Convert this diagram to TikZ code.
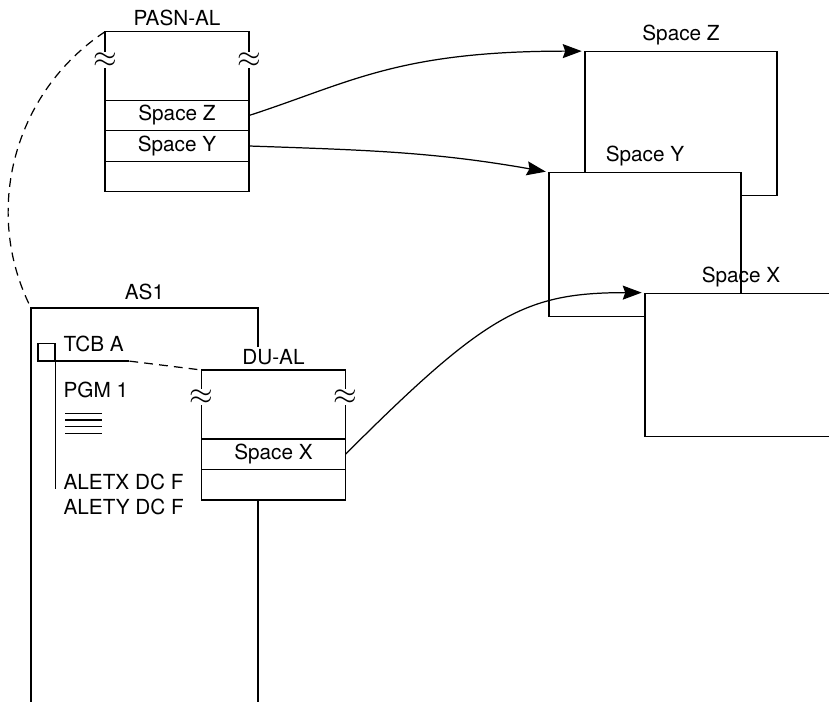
\documentclass[tikz,border=0pt]{standalone}
\usepackage{fontspec}
\setmainfont{TeX Gyre Heros}
\usetikzlibrary{arrows.meta, positioning, calc}
\newcommand{\dgfont}{\fontsize{11.8}{14}\selectfont}

\begin{document}
\begin{tikzpicture}[x=0.2mm, y=0.2mm, line width=0.7pt,
    every node/.style={font=\dgfont, inner sep=0pt},
    every label/.style={font=\dgfont, inner sep=0pt},
    label distance=1mm,
    alhead/.style={draw, outer sep=0pt, minimum width=2.88cm, minimum height=1.37cm},
    alrow/.style={draw, outer sep=0pt, minimum width=2.88cm, minimum height=6.1mm},
    spacebox/.style={draw, fill=white, minimum width=3.84cm, minimum height=2.87cm},
    brk/.style={fill=white, inner sep=0.4pt, font=\fontsize{17}{17}\selectfont},
    link/.style={-{Stealth[length=3.8mm, width=2.8mm, inset=0.5mm]}, shorten >=1.5pt},
    dashline/.style={dash pattern=on 5pt off 3.5pt}]
    \useasboundingbox (0,0) rectangle (829,702);
    \clip (0,0) rectangle (829,702);

    % PASN-AL
    \node[alhead, label=above:PASN-AL] (pasn) at (177,636) {};
    \node[alrow, below=0pt of pasn] (pz) {Space Z};
    \node[alrow, below=0pt of pz] (py) {Space Y};
    \node[alrow, below=0pt of py] (pe) {};

    % address spaces
    \node[spacebox, label=above:Space Z] (boxz) at (681,578.5) {};
    \node[spacebox, label=above:Space Y] (boxy) at (645,457.5) {};
    \node[spacebox, label=above:Space X] (boxx) at (741,337) {};

    % AS1
    \coordinate (as1nw) at (31,394);
    \coordinate (as1ne) at (258,394);
    \draw (as1nw |- 0,-5) -- (as1nw) -- (as1ne) -- ++(0,-39);
    \node[anchor=base] (as1) at ($(as1nw)!0.5!(as1ne)+(0,8)$) {AS1};

    % DU-AL
    \node[alhead, minimum height=1.38cm, label=above:DU-AL] (duhead) at (273.5,297.5) {};
    \node[alrow, below=0pt of duhead] (dx) {Space X};
    \node[alrow, below=0pt of dx] (de) {};
    \draw (as1ne |- de.south) -- (as1ne |- 0,-5);

    % breaks
    \node[brk] (bk1) at ($(pasn.west)+(0,6)$) {$\approx$};
    \node[brk] (bk2) at ($(pasn.east)+(0,6)$) {$\approx$};
    \node[brk] (bk3) at ($(duhead.west)+(0,7.5)$) {$\approx$};
    \node[brk] (bk4) at ($(duhead.east)+(0,7.5)$) {$\approx$};

    % TCB and program
    \node[draw, minimum size=3.4mm] (tcb) at (46.5,350) {};
    \draw (tcb.south west) -- ++(92,0) coordinate (tcbend);
    \draw[dashline] (tcbend) -- (duhead.north west);
    \draw (tcb.south east) -- (tcb.south east |- 0,213);
    \node[anchor=base west] (tcbtxt) at (63,350.3) {TCB A};
    \node[anchor=base west] (pgm) at (63,304.7) {PGM 1};
    \foreach \yy in {288.7, 282, 275.3, 268.7}
        \draw[line width=0.8pt] (65,\yy) -- (102,\yy);
    \node[anchor=base west] (aletx) at (63,212.7) {ALETX DC F};
    \node[anchor=base west] (alety) at (63,187) {ALETY DC F};

    \draw[dashline] (pasn.north west) .. controls (14,610) and (-18,491) .. (as1nw);

    % links
    \draw[link] (pz.east) to[out=18, in=180, out looseness=0.8, in looseness=1.4] (boxz.north west);
    \draw[link] (py.east) to[out=-2, in=170] (boxy.north west);
    \draw[link] (dx.east) to[out=45, in=180, out looseness=1.5, in looseness=0.9] (boxx.north west);
\end{tikzpicture}
\end{document}
